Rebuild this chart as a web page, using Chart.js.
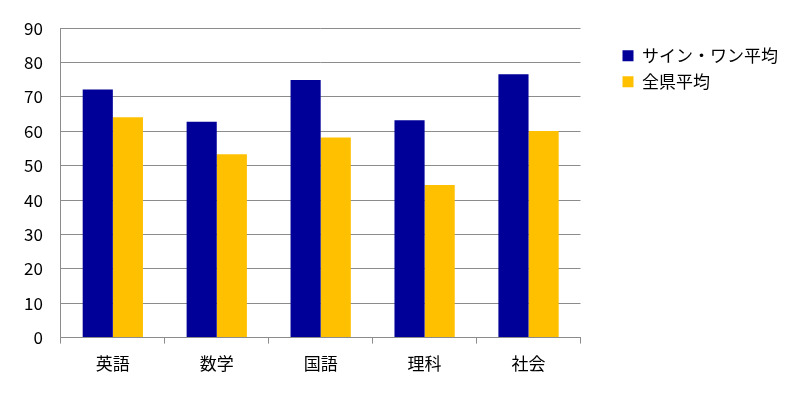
<!DOCTYPE html>
<html>
<head>
<meta charset="utf-8">
<script src="https://cdn.jsdelivr.net/npm/chart.js@4/dist/chart.umd.min.js"></script>
<style>
  html, body { margin: 0; padding: 0; background: #fff; }
  #wrap { width: 800px; height: 400px; }
</style>
</head>
<body>
<div id="wrap"><canvas id="grafico" width="800" height="400"></canvas></div>
<script>
const subjects = ['英語', '数学', '国語', '理科', '社会']
const signOneAvg = [72.2, 62.8, 74.9, 63.2, 76.6]
const prefAvg = [64.1, 53.3, 58.2, 44.4, 60.1]
const yTicks = [0, 10, 20, 30, 40, 50, 60, 70, 80, 90]

const fontFamily = '"Noto Sans CJK JP", "Noto Sans", sans-serif'
Chart.defaults.font.family = fontFamily
Chart.defaults.color = '#000'

const ctx = document.getElementById('grafico')
new Chart(ctx, {
  type: 'bar',
  data: {
    labels: subjects,
    datasets: [
      {
        label: 'サイン・ワン平均',
        data: signOneAvg,
        backgroundColor: '#000099',
        borderWidth: 0
      },
      {
        label: '全県平均',
        data: prefAvg,
        backgroundColor: '#FFC000',
        borderWidth: 0
      }
    ]
  },
  options: {
    responsive: false,
    animation: false,
    layout: { padding: { top: 23, right: 12, bottom: 16, left: 6 } },
    plugins: {
      tooltip: { enabled: false },
      legend: {
        position: 'right',
        align: 'start',
        maxWidth: 220,
        title: { display: true, text: ' ', font: { size: 1 }, padding: { top: 14, bottom: 0 } },
        labels: {
          boxWidth: 11,
          boxHeight: 11,
          padding: 9,
          font: { size: 17 },
          color: '#000'
        }
      }
    },
    datasets: {
      bar: { categoryPercentage: 0.58, barPercentage: 1.0 }
    },
    scales: {
      x: {
        grid: {
          offset: true,
          drawOnChartArea: false,
          drawTicks: true,
          tickLength: 6,
          color: '#8c8c8c'
        },
        border: { color: '#8c8c8c' },
        ticks: { font: { size: 17 }, padding: 10, color: '#000' }
      },
      y: {
        min: 0,
        max: 90,
        afterBuildTicks: axis => { axis.ticks = yTicks.map(v => ({ value: v })) },
        grid: { color: '#8c8c8c', drawTicks: false },
        border: { color: '#8c8c8c' },
        ticks: { font: { size: 17 }, padding: 18, color: '#000' }
      },
      gap: {
        position: 'right',
        type: 'linear',
        display: true,
        grid: { drawOnChartArea: false, drawTicks: false },
        border: { display: false },
        ticks: { display: false },
        afterFit: axis => { axis.width = 33 }
      }
    }
  }
})
</script>
</body>
</html>
